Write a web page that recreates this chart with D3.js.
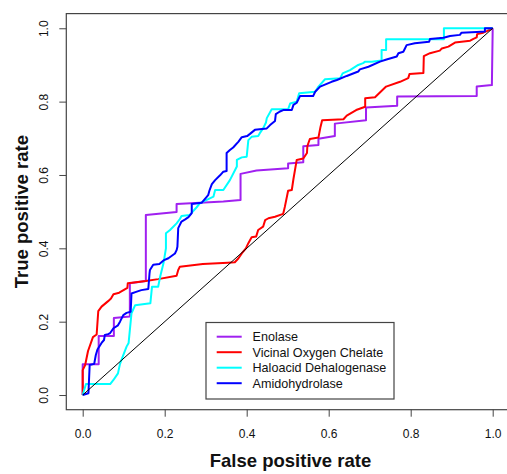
<!DOCTYPE html>
<html><head><meta charset="utf-8">
<script src="https://cdn.jsdelivr.net/npm/d3@7"></script>
<style>body{margin:0;background:#fff}svg{display:block}</style>
</head><body>
<svg id="c" width="507" height="474"></svg>
<script>
const seriesNames = ["Enolase","Vicinal Oxygen Chelate","Haloacid Dehalogenase","Amidohydrolase"];
const seriesColors = ["#A020F0","#FF0000","#00FFFF","#0000FF"];
const xTicks = [0,0.2,0.4,0.6,0.8,1.0];
const yTicks = [0,0.2,0.4,0.6,0.8,1.0];

const enolaseFPR = [0,0,0.039,0.039,0.076,0.076,0.115,0.115,0.154,0.154,0.229,0.229,0.343,0.385,0.385,0.424,0.501,0.501,0.538,0.538,0.575,0.575,0.615,0.615,0.691,0.691,0.767,0.767,0.961,0.961,0.998,1];
const enolaseTPR = [0,0.084,0.084,0.161,0.161,0.210,0.214,0.305,0.311,0.491,0.499,0.521,0.528,0.532,0.603,0.612,0.618,0.631,0.635,0.678,0.682,0.699,0.706,0.740,0.749,0.784,0.789,0.814,0.815,0.841,0.845,1];

const vicinalFPR = [0,0,0.006,0.013,0.025,0.034,0.038,0.046,0.062,0.069,0.075,0.089,0.109,0.110,0.154,0.184,0.229,0.233,0.237,0.293,0.354,0.371,0.380,0.388,0.398,0.404,0.412,0.423,0.428,0.440,0.445,0.453,0.469,0.489,0.493,0.501,0.510,0.514,0.522,0.538,0.547,0.548,0.554,0.575,0.580,0.584,0.636,0.644,0.667,0.689,0.689,0.713,0.740,0.774,0.794,0.797,0.831,0.832,0.847,0.871,0.876,0.892,0.908,0.945,0.953,0.961,0.962,0.977,0.987,1];
const vicinalTPR = [0,0.068,0.082,0.120,0.158,0.165,0.229,0.241,0.256,0.263,0.275,0.279,0.292,0.305,0.311,0.316,0.325,0.341,0.350,0.357,0.361,0.362,0.373,0.386,0.400,0.414,0.430,0.432,0.450,0.459,0.477,0.482,0.486,0.494,0.513,0.557,0.559,0.589,0.641,0.645,0.660,0.679,0.698,0.702,0.731,0.749,0.752,0.762,0.777,0.786,0.809,0.812,0.841,0.854,0.864,0.875,0.878,0.924,0.932,0.939,0.945,0.950,0.961,0.966,0.971,0.975,0.984,0.988,0.993,1];

const haloFPR = [0,0.008,0.067,0.075,0.086,0.091,0.099,0.107,0.112,0.115,0.119,0.128,0.165,0.169,0.184,0.189,0.197,0.203,0.203,0.213,0.229,0.237,0.241,0.261,0.278,0.286,0.319,0.323,0.343,0.359,0.376,0.376,0.388,0.400,0.404,0.412,0.428,0.432,0.440,0.447,0.449,0.461,0.501,0.506,0.522,0.528,0.567,0.575,0.591,0.628,0.634,0.652,0.672,0.684,0.689,0.705,0.729,0.729,0.740,0.740,0.881,0.881,1];
const haloTPR = [0,0.030,0.030,0.041,0.059,0.085,0.109,0.132,0.142,0.177,0.223,0.245,0.250,0.295,0.295,0.323,0.359,0.400,0.441,0.450,0.468,0.480,0.488,0.491,0.512,0.523,0.541,0.559,0.559,0.586,0.623,0.641,0.648,0.650,0.695,0.704,0.706,0.714,0.727,0.743,0.755,0.779,0.779,0.795,0.800,0.823,0.827,0.841,0.861,0.864,0.877,0.886,0.900,0.905,0.909,0.909,0.912,0.941,0.941,0.970,0.970,1,1];

const amidoFPR = [0,0.014,0.017,0.028,0.032,0.036,0.046,0.052,0.054,0.062,0.067,0.075,0.086,0.091,0.095,0.099,0.107,0.117,0.119,0.132,0.143,0.160,0.163,0.164,0.172,0.187,0.197,0.209,0.225,0.229,0.231,0.233,0.241,0.250,0.258,0.266,0.266,0.290,0.306,0.309,0.315,0.323,0.335,0.343,0.351,0.351,0.359,0.367,0.380,0.388,0.401,0.408,0.420,0.449,0.457,0.469,0.471,0.481,0.489,0.510,0.514,0.522,0.530,0.562,0.567,0.579,0.607,0.620,0.644,0.672,0.676,0.697,0.725,0.741,0.766,0.770,0.782,0.786,0.790,0.810,0.845,0.847,0.880,0.896,0.920,0.924,0.961,0.981,0.981,1];
const amidoTPR = [0,0.005,0.082,0.085,0.109,0.124,0.142,0.150,0.164,0.166,0.169,0.182,0.190,0.200,0.209,0.218,0.224,0.227,0.277,0.282,0.286,0.289,0.332,0.341,0.355,0.357,0.367,0.373,0.386,0.395,0.404,0.455,0.473,0.479,0.485,0.496,0.521,0.524,0.545,0.557,0.575,0.586,0.599,0.609,0.611,0.660,0.668,0.675,0.691,0.703,0.706,0.712,0.723,0.727,0.736,0.747,0.766,0.773,0.777,0.777,0.791,0.797,0.815,0.815,0.827,0.841,0.854,0.859,0.870,0.882,0.888,0.895,0.909,0.915,0.923,0.932,0.936,0.945,0.954,0.959,0.963,0.971,0.974,0.979,0.982,0.988,0.990,0.991,1,1];

const series = [
  {fpr: enolaseFPR, tpr: enolaseTPR},
  {fpr: vicinalFPR, tpr: vicinalTPR},
  {fpr: haloFPR, tpr: haloTPR},
  {fpr: amidoFPR, tpr: amidoTPR}
];

const svg = d3.select("#c");
const font = "'Liberation Sans', Arial, Helvetica, sans-serif";
const x = d3.scaleLinear().domain([-0.04,1.04]).range([66.3, 509.1]);
const y = d3.scaleLinear().domain([-0.04,1.04]).range([409.7, 13.6]);

// curves
const line = d3.line().x(d => x(d[0])).y(d => y(d[1]));
series.forEach((s, i) => {
  const pts = s.fpr.map((f, j) => [f, s.tpr[j]]);
  svg.append("path").attr("d", line(pts)).attr("fill","none")
    .attr("stroke", seriesColors[i]).attr("stroke-width", 2)
    .attr("stroke-linejoin","round");
});

// diagonal
svg.append("path").attr("d", line([[0,0],[1,1]])).attr("stroke","#000").attr("stroke-width",1).attr("fill","none");

// box
svg.append("rect").attr("x", x(-0.04)).attr("y", y(1.04))
  .attr("width", x(1.04)-x(-0.04)).attr("height", y(-0.04)-y(1.04))
  .attr("fill","none").attr("stroke","#444").attr("stroke-width",1.2);

// x axis
const xa = svg.append("g").attr("transform", `translate(0,${y(-0.04)})`)
  .call(d3.axisBottom(x).tickValues(xTicks).tickFormat(d3.format(".1f")).tickSize(7).tickPadding(12.5));
xa.select(".domain").remove();
xa.selectAll("line").attr("stroke","#444");
xa.selectAll("text").attr("font-family", font).attr("font-size", 12).attr("fill","#111");

// y axis
const ya = svg.append("g").attr("transform", `translate(${x(-0.04)},0)`)
  .call(d3.axisLeft(y).tickValues(yTicks).tickFormat(d3.format(".1f")).tickSize(7));
ya.select(".domain").remove();
ya.selectAll("line").attr("stroke","#444");
ya.selectAll("text").attr("font-family", font).attr("font-size", 12).attr("fill","#111")
  .attr("text-anchor","middle").attr("x", 0).attr("dy","0.32em")
  .attr("transform", "translate(-22,0) rotate(-90)");

// titles
svg.append("text").attr("x", 290.5).attr("y", 466.5).attr("text-anchor","middle")
  .attr("font-family", font).attr("font-weight","bold").attr("font-size", 18.5).attr("fill","#111")
  .text("False positive rate");
svg.append("text").attr("transform", `translate(27.5,${(y(0)+y(1))/2}) rotate(-90)`).attr("text-anchor","middle")
  .attr("font-family", font).attr("font-weight","bold").attr("font-size", 18.5).attr("fill","#111")
  .text("True positive rate");

// legend
const lg = svg.append("g");
lg.append("rect").attr("x", 206).attr("y", 322.5).attr("width", 188).attr("height", 76.5)
  .attr("fill","#fff").attr("stroke","#444").attr("stroke-width",1.2);
seriesNames.forEach((n, i) => {
  const yy = 336.7 + i * 15.5;
  lg.append("line").attr("x1", 216.7).attr("x2", 241.7).attr("y1", yy).attr("y2", yy)
    .attr("stroke", seriesColors[i]).attr("stroke-width", 2);
  lg.append("text").attr("x", 252.5).attr("y", yy).attr("dy","0.35em")
    .attr("font-family", font).attr("font-size", 12.6).attr("fill","#111").text(n);
});
</script>
</body></html>
